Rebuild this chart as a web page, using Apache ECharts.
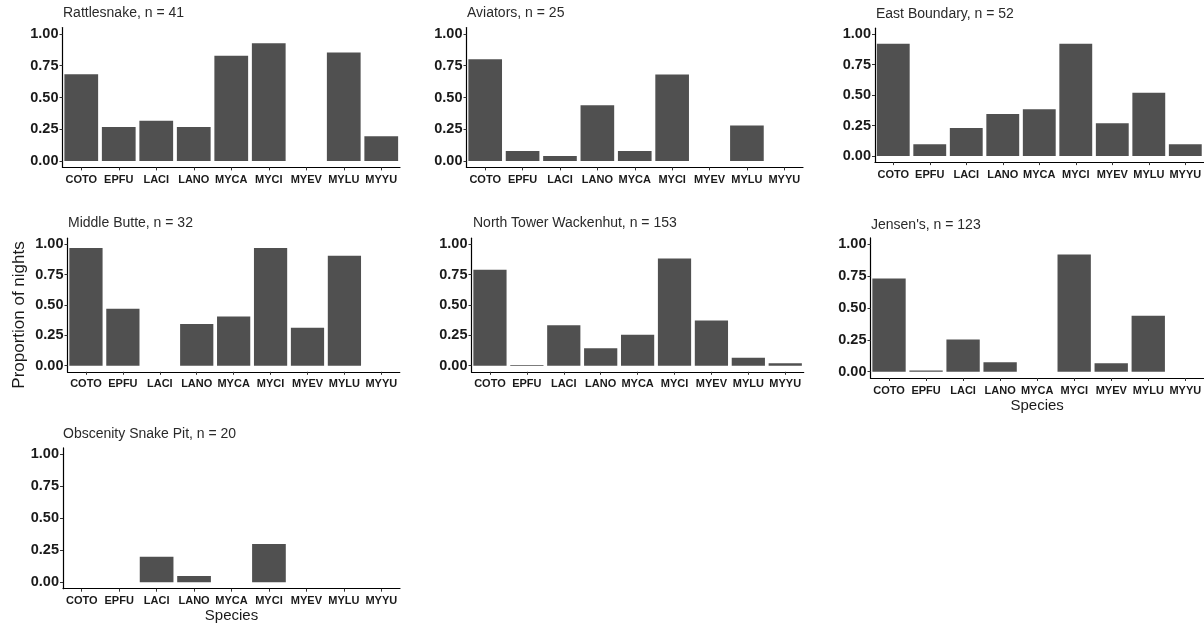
<!DOCTYPE html>
<html>
<head>
<meta charset="utf-8">
<script src="https://cdn.jsdelivr.net/npm/echarts@6/dist/echarts.min.js"></script>
<style>
html,body{margin:0;padding:0;background:#fff;}
#chart{width:1204px;height:625px;}
</style>
</head>
<body>
<div id="chart"></div>
<script>
var categories = ['COTO','EPFU','LACI','LANO','MYCA','MYCI','MYEV','MYLU','MYYU'];
var yTicks = [0, 0.25, 0.5, 0.75, 1];

var siteNames = ['Rattlesnake, n = 41','Aviators, n = 25','East Boundary, n = 52',
  'Middle Butte, n = 32','North Tower Wackenhut, n = 153',"Jensen's, n = 123",
  'Obscenity Snake Pit, n = 20'];

var rattlesnake  = [0.683, 0.268, 0.317, 0.268, 0.829, 0.927, 0, 0.854, 0.195];
var aviators     = [0.80, 0.08, 0.04, 0.44, 0.08, 0.68, 0, 0.28, 0];
var eastBoundary = [0.923, 0.096, 0.231, 0.346, 0.385, 0.923, 0.269, 0.519, 0.096];
var middleButte  = [0.969, 0.469, 0, 0.344, 0.406, 0.969, 0.3125, 0.906, 0];
var northTower   = [0.791, 0.007, 0.333, 0.144, 0.255, 0.882, 0.373, 0.065, 0.02];
var jensens      = [0.732, 0.008, 0.252, 0.073, 0, 0.919, 0.065, 0.439, 0];
var obscenity    = [0, 0, 0.2, 0.05, 0, 0.3, 0, 0, 0];

var siteValues = [rattlesnake, aviators, eastBoundary, middleButte, northTower, jensens, obscenity];

var FONT = '"Liberation Sans", Arial, sans-serif';

// panel layout: [left, top, width, height] (layout only)
var grids = [
  [62.5, 27.6, 337.5, 139.8],
  [466.5, 27.6, 336.5, 139.8],
  [875, 28.2, 332, 133.9],
  [67.5, 238.2, 332.3, 133.6],
  [471.5, 238.2, 332.2, 133.6],
  [870.5, 237.9, 336.5, 140.1],
  [63, 447.9, 337, 140.8]
];
var titlePos = [[63,5],[467,5],[876,6],[68,215],[473,215],[871,217],[63,426]];
var showXName = [false,false,false,false,false,true,true];

var option = {
  animation: false,
  backgroundColor: '#ffffff',
  title: [],
  grid: [],
  xAxis: [],
  yAxis: [],
  series: [],
  graphic: [{
    type: 'text',
    x: 19, y: 315,
    rotation: Math.PI / 2,
    style: {
      text: 'Proportion of nights',
      font: '17px ' + FONT,
      fill: '#1a1a1a',
      textAlign: 'center',
      textVerticalAlign: 'middle'
    }
  }]
};

for (var i = 0; i < siteValues.length; i++) {
  var g = grids[i];
  option.grid.push({left: g[0], top: g[1], width: g[2], height: g[3], containLabel: false});
  option.title.push({
    text: siteNames[i], left: titlePos[i][0], top: titlePos[i][1], padding: 0,
    textStyle: {fontFamily: FONT, fontSize: 14, fontWeight: 'normal', color: '#2a2a2a', lineHeight: 16}
  });
  option.xAxis.push({
    type: 'category', gridIndex: i, data: categories,
    name: showXName[i] ? 'Species' : '',
    nameLocation: 'middle', nameGap: 20,
    nameTextStyle: {fontFamily: FONT, fontSize: 15, color: '#1a1a1a'},
    axisLine: {show: true, onZero: false, lineStyle: {color: '#000', width: 1.2}},
    axisTick: {show: true, alignWithLabel: true, length: 3, lineStyle: {color: '#333'}},
    axisLabel: {interval: 0, margin: 7, fontFamily: FONT, fontSize: 11, fontWeight: 'bold', color: '#1a1a1a'},
    splitLine: {show: false}
  });
  option.yAxis.push({
    type: 'value', gridIndex: i, min: -0.05, max: 1.05,
    axisLine: {show: true, lineStyle: {color: '#000', width: 1.2}},
    axisTick: {show: true, length: 3, customValues: yTicks, lineStyle: {color: '#333'}},
    axisLabel: {customValues: yTicks, margin: 4, fontFamily: FONT, fontSize: 14.5, fontWeight: 'bold', color: '#1a1a1a',
      formatter: function (v) { return v.toFixed(2); }},
    splitLine: {show: false}
  });
  option.series.push({
    type: 'bar', xAxisIndex: i, yAxisIndex: i, data: siteValues[i],
    barCategoryGap: '10%',
    itemStyle: {color: '#505050'}
  });
}

var chart = echarts.init(document.getElementById('chart'), null, {renderer: 'canvas'});
chart.setOption(option);
</script>
</body>
</html>
